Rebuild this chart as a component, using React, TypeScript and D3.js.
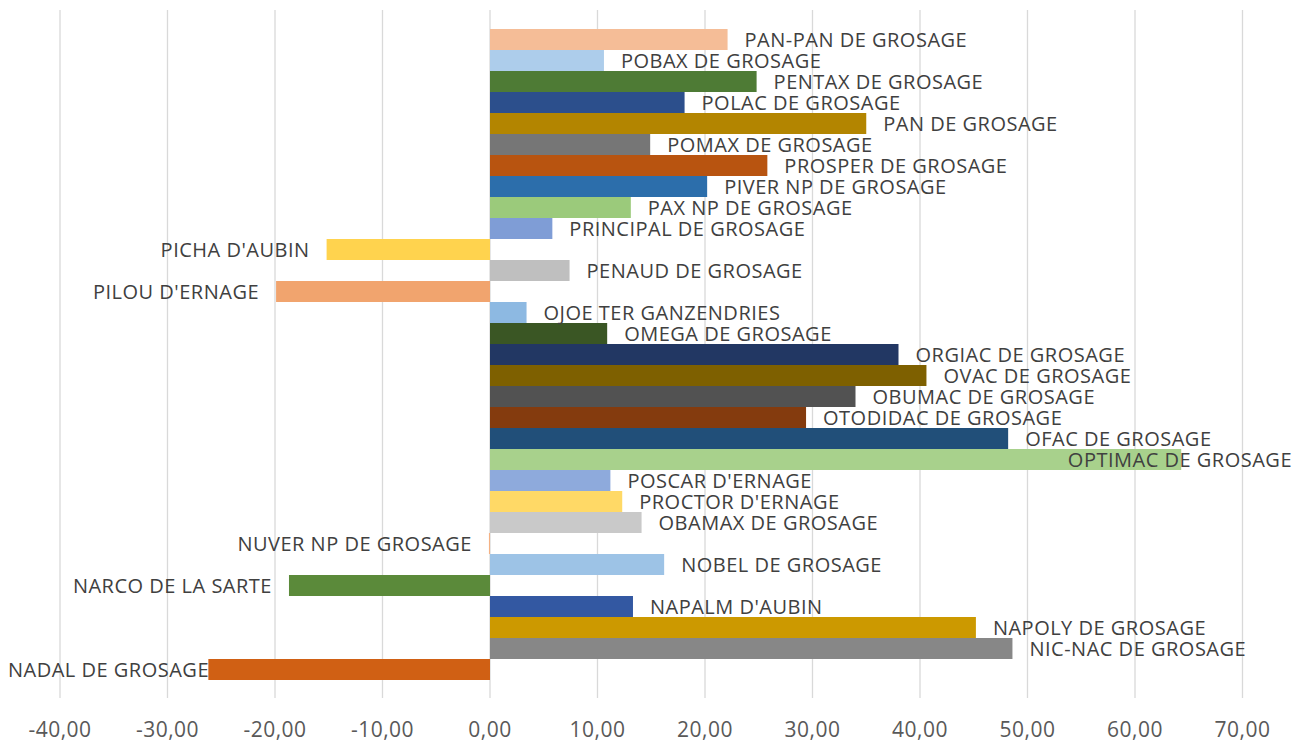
import React, { useRef, useEffect } from "react";
import * as d3 from "d3";

// categories listed top to bottom
const categories = [
  "PAN-PAN DE GROSAGE",
  "POBAX DE GROSAGE",
  "PENTAX DE GROSAGE",
  "POLAC DE GROSAGE",
  "PAN DE GROSAGE",
  "POMAX DE GROSAGE",
  "PROSPER DE GROSAGE",
  "PIVER NP DE GROSAGE",
  "PAX NP DE GROSAGE",
  "PRINCIPAL DE GROSAGE",
  "PICHA D'AUBIN",
  "PENAUD DE GROSAGE",
  "PILOU D'ERNAGE",
  "OJOE TER GANZENDRIES",
  "OMEGA DE GROSAGE",
  "ORGIAC DE GROSAGE",
  "OVAC DE GROSAGE",
  "OBUMAC DE GROSAGE",
  "OTODIDAC DE GROSAGE",
  "OFAC DE GROSAGE",
  "OPTIMAC DE GROSAGE",
  "POSCAR D'ERNAGE",
  "PROCTOR D'ERNAGE",
  "OBAMAX DE GROSAGE",
  "NUVER NP DE GROSAGE",
  "NOBEL DE GROSAGE",
  "NARCO DE LA SARTE",
  "NAPALM D'AUBIN",
  "NAPOLY DE GROSAGE",
  "NIC-NAC DE GROSAGE",
  "NADAL DE GROSAGE",
];

const values = [
  22.1, 10.6, 24.8, 18.1, 35.0, 14.9, 25.8, 20.2, 13.1, 5.8,
  -15.2, 7.4, -19.9, 3.4, 10.9, 38.0, 40.6, 34.0, 29.4, 48.2,
  64.3, 11.2, 12.3, 14.1, -0.1, 16.2, -18.7, 13.3, 45.2, 48.6,
  -26.2,
];

const colors = [
  "#F5BD97", "#ADCDEB", "#4E7B35", "#2C4F8C", "#B38500", "#767676",
  "#B85410", "#2C6EAB", "#9BCA7B", "#7F9DD6", "#FFD34E", "#BFBFBF",
  "#F1A46E", "#8DB9E2", "#3A5624", "#223763", "#7E6000", "#525252",
  "#843B0E", "#214F79", "#A8D18C", "#8EAADC", "#FFD966", "#C9C9C9",
  "#F4B183", "#9DC3E6", "#5B8A3A", "#3358A2", "#CC9900", "#878787",
  "#D06014",
];

const ticks = [-40, -30, -20, -10, 0, 10, 20, 30, 40, 50, 60, 70];

const W = 1306;
const H = 743;

export default function App() {
  const svgRef = useRef<SVGSVGElement>(null);

  useEffect(() => {
    const svg = d3.select(svgRef.current);
    svg.selectAll("*").remove();

    const x = d3.scaleLinear().domain([-40, 70]).range([60, 1242.5]);
    const y = d3.scaleBand<string>().domain(categories).range([29, 680]).padding(0);

    // gridlines
    svg
      .append("g")
      .selectAll("line")
      .data(ticks)
      .enter()
      .append("line")
      .attr("x1", d => x(d))
      .attr("x2", d => x(d))
      .attr("y1", 10)
      .attr("y2", 698)
      .attr("stroke", "#D9D9D9")
      .attr("stroke-width", 1.3);

    const fmt = (d: number) => d.toFixed(2).replace(".", ",");

    // tick labels
    svg
      .append("g")
      .selectAll("text")
      .data(ticks)
      .enter()
      .append("text")
      .attr("x", d => x(d))
      .attr("y", 729.5)
      .attr("dy", "0.35em")
      .attr("text-anchor", "middle")
      .attr("fill", "#595959")
      .attr("font-family", "'Open Sans', sans-serif")
      .attr("font-size", 21)
      .attr("letter-spacing", 0.5)
      .text(d => fmt(d));

    const rows = categories.map((c, i) => ({ name: c, value: values[i], color: colors[i] }));

    // bars
    svg
      .append("g")
      .selectAll("rect")
      .data(rows)
      .enter()
      .append("rect")
      .attr("x", d => Math.min(x(0), x(d.value)))
      .attr("y", d => y(d.name) as number)
      .attr("width", d => Math.abs(x(d.value) - x(0)))
      .attr("height", y.bandwidth())
      .attr("fill", d => d.color);

    // data labels (category names)
    const labels = svg
      .append("g")
      .selectAll("text")
      .data(rows)
      .enter()
      .append("text")
      .attr("y", d => (y(d.name) as number) + y.bandwidth() / 2)
      .attr("dy", "0.36em")
      .attr("fill", "#404040")
      .attr("font-family", "'Open Sans', sans-serif")
      .attr("font-size", 20)
      .attr("letter-spacing", 0.5)
      .text(d => d.name);

    labels.each(function (d) {
      const node = this as SVGTextElement;
      const w = node.getComputedTextLength();
      let start = d.value > 0 ? x(d.value) + 17 : x(d.value) - 17 - w;
      start = Math.max(8, Math.min(start, 1292 - w));
      d3.select(node).attr("x", start);
    });
  }, []);

  return (
    <svg
      ref={svgRef}
      width={W}
      height={H}
      style={{ position: "absolute", left: 0, top: 0, background: "#fff" }}
    />
  );
}
